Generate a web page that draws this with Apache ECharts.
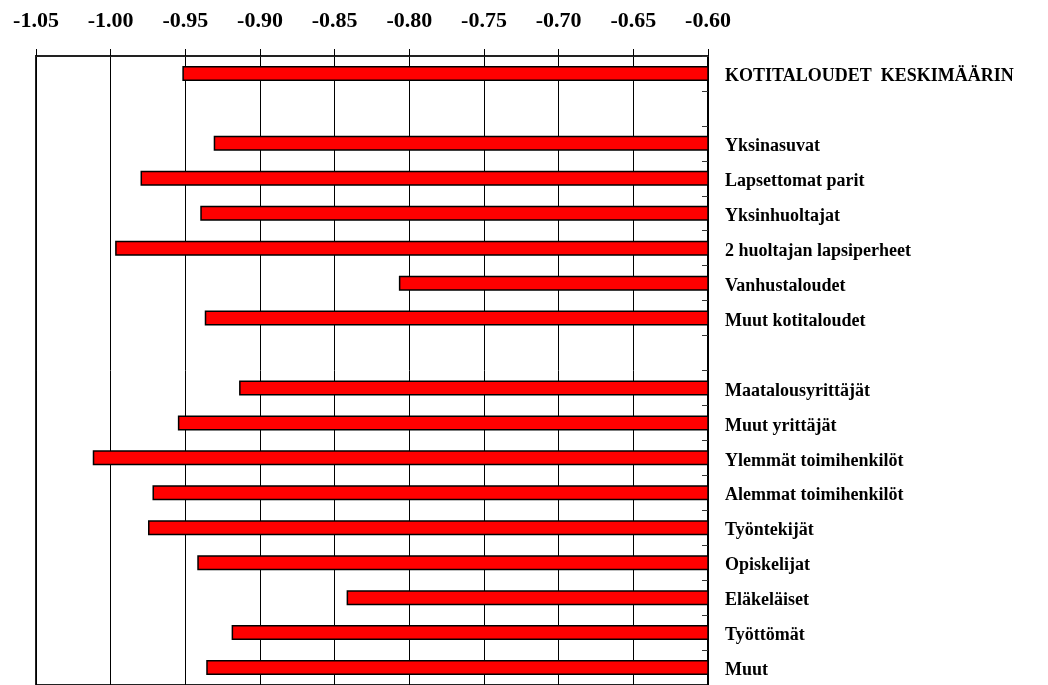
<!DOCTYPE html>
<html>
<head>
<meta charset="utf-8">
<script src="https://cdn.jsdelivr.net/npm/echarts@6/dist/echarts.min.js"></script>
<style>
html,body{margin:0;padding:0;background:#fff;}
#c{width:1048px;height:685px;}
</style>
</head>
<body>
<div id="c"></div>
<script>
var categories = [
  'KOTITALOUDET  KESKIMÄÄRIN', ' ', 'Yksinasuvat', 'Lapsettomat parit', 'Yksinhuoltajat',
  '2 huoltajan lapsiperheet', 'Vanhustaloudet', 'Muut kotitaloudet', '  ',
  'Maatalousyrittäjät', 'Muut yrittäjät', 'Ylemmät toimihenkilöt', 'Alemmat toimihenkilöt',
  'Työntekijät', 'Opiskelijat', 'Eläkeläiset', 'Työttömät', 'Muut'
];
var values = [
  -0.952, null, -0.931, -0.980, -0.940,
  -0.997, -0.807, -0.937, null,
  -0.914, -0.955, -1.012, -0.972,
  -0.975, -0.942, -0.842, -0.919, -0.936
];
var axisMin = -1.05, axisMax = -0.60, axisStep = 0.05;

var chart = echarts.init(document.getElementById('c'), null, {renderer: 'canvas'});
chart.setOption({
  animation: false,
  backgroundColor: '#ffffff',
  grid: {left: 36, right: 340, top: 56, bottom: -6, show: true, borderColor: '#222', borderWidth: 2, backgroundColor: 'transparent'},
  xAxis: {
    type: 'value', position: 'top', min: axisMin, max: axisMax, interval: axisStep,
    axisLine: {show: true, lineStyle: {color: '#222', width: 2}},
    axisTick: {show: true, length: 7, lineStyle: {color: '#000', width: 1}},
    axisLabel: {
      margin: 24, color: '#000', fontFamily: 'Liberation Serif', fontWeight: 'bold', fontSize: 22,
      formatter: function (v) { return v.toFixed(2); }
    },
    splitLine: {show: true, lineStyle: {color: '#000', width: 1}}
  },
  yAxis: {
    type: 'category', position: 'right', inverse: true, data: categories,
    axisLine: {show: true, lineStyle: {color: '#000', width: 2}},
    axisTick: {show: true, inside: true, length: 6, lineStyle: {color: '#333', width: 1}},
    axisLabel: {
      margin: 17, color: '#000', fontFamily: 'Liberation Serif', fontWeight: 'bold', fontSize: 18,
      align: 'left', verticalAlign: 'top', lineHeight: 6
    },
    splitLine: {show: false}
  },
  series: [{
    type: 'bar', data: values, barWidth: 15, clip: true,
    itemStyle: {color: '#ff0000', borderColor: '#000', borderWidth: 1.5}
  }]
});
</script>
</body>
</html>
